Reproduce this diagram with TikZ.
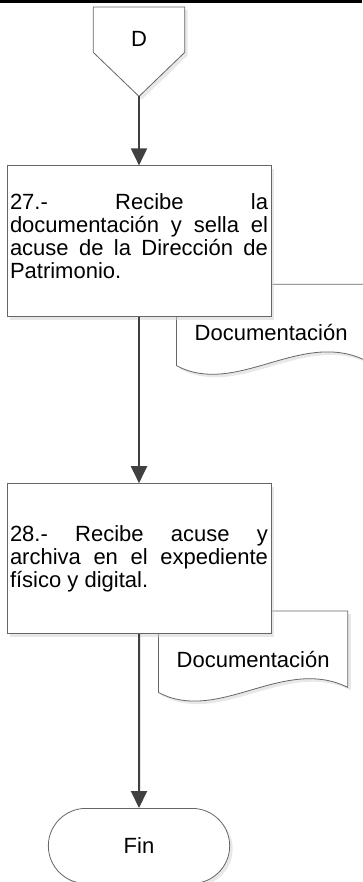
\documentclass[tikz,border=0pt]{standalone}
\usepackage{fontspec}
\setmainfont{Liberation Sans}
\usetikzlibrary{arrows.meta,positioning,calc,shadows,shapes.misc}
\pgfdeclarelayer{background}
\pgfsetlayers{background,main}

\begin{document}
\begin{tikzpicture}[x=1pt, y=1pt, node distance=60pt, font=\fontsize{22pt}{23pt}\selectfont, >={Triangle[length=17pt,width=16pt]}]
\tikzstyle{shade}=[drop shadow={shadow xshift=3pt, shadow yshift=-3pt, fill=black!18}]
\tikzstyle{outline}=[draw=black!60, line width=0.8pt, fill=white, shade]
\tikzstyle{proc}=[outline, minimum width=264pt, minimum height=151pt, text width=258pt, inner sep=3pt, align=justify]
\tikzstyle{term}=[outline, rounded rectangle, minimum width=188pt, minimum height=75pt]
\tikzstyle{docu}=[minimum width=189pt, minimum height=81pt, text height=31pt, text depth=0pt, anchor=north west]
\tikzstyle{flow}=[->, line width=2pt, draw=black!75]
\useasboundingbox (0,0) rectangle (362,-882);
\draw[line width=3.5pt] (0,-1.5) -- (362,-1.5);

\node[minimum width=91pt, minimum height=89pt, text height=0pt, text depth=9.6pt, anchor=north] (conD) at (139,-7) {D};
\node[proc, below=69pt of conD] (s27) {27.- Recibe la\linebreak documentación y sella el\linebreak acuse de la Dirección de\linebreak Patrimonio.\rule[-11pt]{0pt}{11pt}};
\node[proc, minimum height=150pt, below=166pt of s27] (s28) {28.- Recibe acuse y\linebreak archiva en el expediente\linebreak físico y digital.};
\node[term, below=174pt of s28] (fin) {Fin};
\node[docu] (doc27) at ([shift={(-95,33)}]s27.south east) {Documentación};
\node[docu] (doc28) at ([shift={(-113,23)}]s28.south east) {Documentación};

\begin{pgfonlayer}{background}
\draw[outline] (conD.north west) -- (conD.north east) -- ([yshift=44pt]conD.south east) -- (conD.south) -- ([yshift=44pt]conD.south west) -- cycle;
\draw[outline] (doc27.north west) -- (doc27.north east) -- ([yshift=5pt]doc27.south east) .. controls ([shift={(125,37)}]doc27.south west) and ([shift={(60,-32)}]doc27.south west) .. (doc27.south west) -- cycle;
\draw[outline] (doc28.north west) -- (doc28.north east) -- ([yshift=5pt]doc28.south east) .. controls ([shift={(125,37)}]doc28.south west) and ([shift={(60,-32)}]doc28.south west) .. (doc28.south west) -- cycle;
\end{pgfonlayer}

\draw[flow] (conD.south) -- (s27);
\draw[flow] (s27) -- (s28);
\draw[flow] (s28) -- (fin);
\end{tikzpicture}
\end{document}
